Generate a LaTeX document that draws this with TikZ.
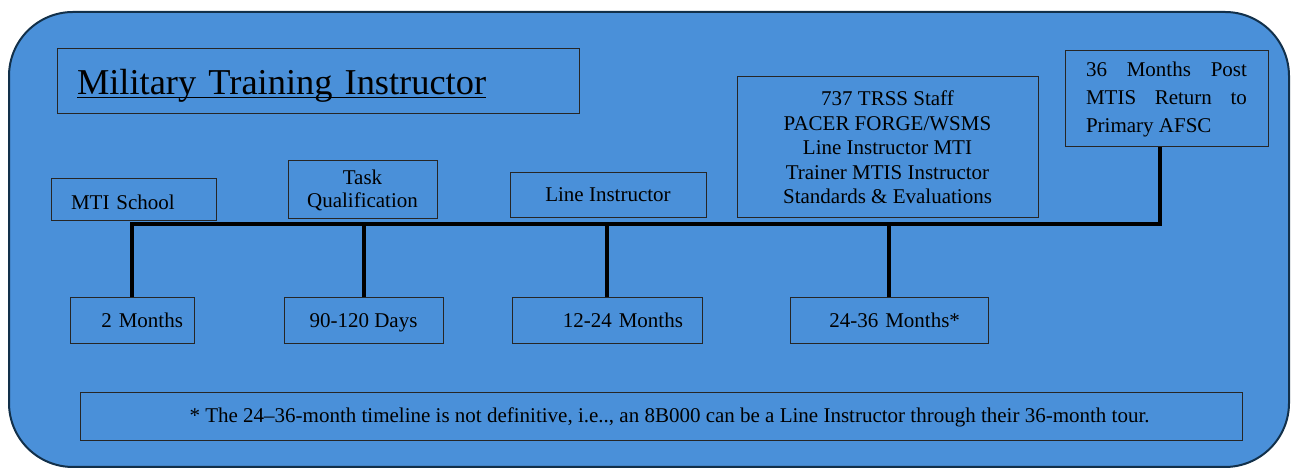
\documentclass[tikz,border=0pt]{standalone}
\usepackage{fontspec}
\setmainfont{Liberation Serif}
\usepackage{tikz}
\usetikzlibrary{calc,positioning}
\definecolor{panel}{HTML}{4A90D9}
\definecolor{rim}{HTML}{12304A}
\tikzstyle{box}=[draw=black!85,line width=0.5pt,inner sep=0,font=\fontsize{10.5}{12.25}\selectfont]
\tikzstyle{low box}=[box,minimum height=23pt,text height=8pt,text depth=1pt]
\tikzstyle{bus}=[line width=2pt,line join=miter]

\begin{document}
\begin{tikzpicture}[x=0.5pt,y=-0.5pt]
		\useasboundingbox (0,0) rectangle (1291,469);
		\draw[fill=panel,draw=rim,line width=1pt,rounded corners=32pt] (9,12) rectangle (1289,467);

		% top row
		\node(0)[box,minimum width=261pt,minimum height=32.5pt,text width=241pt,inner xsep=10pt,align=left,text height=13.5pt,text depth=0pt,font=\fontsize{18.2}{22}\selectfont] at (318,81.5) {\underline{\smash{Military Training Instructor}}};
		\node(1)[box,minimum width=82.5pt,minimum height=21pt,text width=62.5pt,inner xsep=10pt,align=left,text height=10pt,text depth=0pt] at (133.5,200) {MTI School};
		\node(2)[box,minimum width=74.5pt,minimum height=29pt,align=center,font=\fontsize{10.5}{11.5}\selectfont] at (362.5,190) {Task\\Qualification};
		\node(3)[box,minimum width=98pt,minimum height=22.5pt,text height=8pt,text depth=1.5pt] at (608,195.5) {Line Instructor};
		\node(4)[box,minimum width=150.5pt,minimum height=70.5pt,align=center] at (887.5,147.5) {737 TRSS Staff\\PACER FORGE/WSMS\\Line Instructor MTI\\Trainer MTIS Instructor\\Standards \& Evaluations};
		\node(5)[box,minimum width=101.5pt,minimum height=48pt,text width=80.5pt,inner xsep=10.5pt,align=justify,font=\fontsize{10.5}{14}\selectfont] at (1166.5,99) {36 Months Post\linebreak MTIS Return to\linebreak Primary AFSC};

		% bottom row
		\node(6)[low box,minimum width=62pt,text width=51pt,inner xsep=5.5pt,align=right] at (132,321) {2 Months};
		\node(7)[low box,minimum width=79.5pt] at (363.5,321) {90-120 Days};
		\node(8)[low box,minimum width=95pt,text width=76pt,inner xsep=9.5pt,align=right] at (607,321) {12-24 Months};
		\node(9)[low box,minimum width=99pt,text width=71pt,inner xsep=14pt,align=right] at (889,321) {24-36 Months*};
		\node(10)[box,minimum width=581pt,minimum height=24pt,text height=7.5pt,text depth=1.5pt] at (661,417) {\hspace*{8.5pt}* The 24–36-month timeline is not definitive, i.e.., an 8B000 can be a Line Instructor through their 36-month tour.};

		% timeline
		\coordinate (b) at (1160,224);
		\draw[bus] (6.north) -- (6.north |- b) -- (b) -- (b |- 5.south);
		\foreach \n in {7,8,9}
			\draw[bus] (\n.north) -- (\n.north |- b);

\end{tikzpicture}
\end{document}
